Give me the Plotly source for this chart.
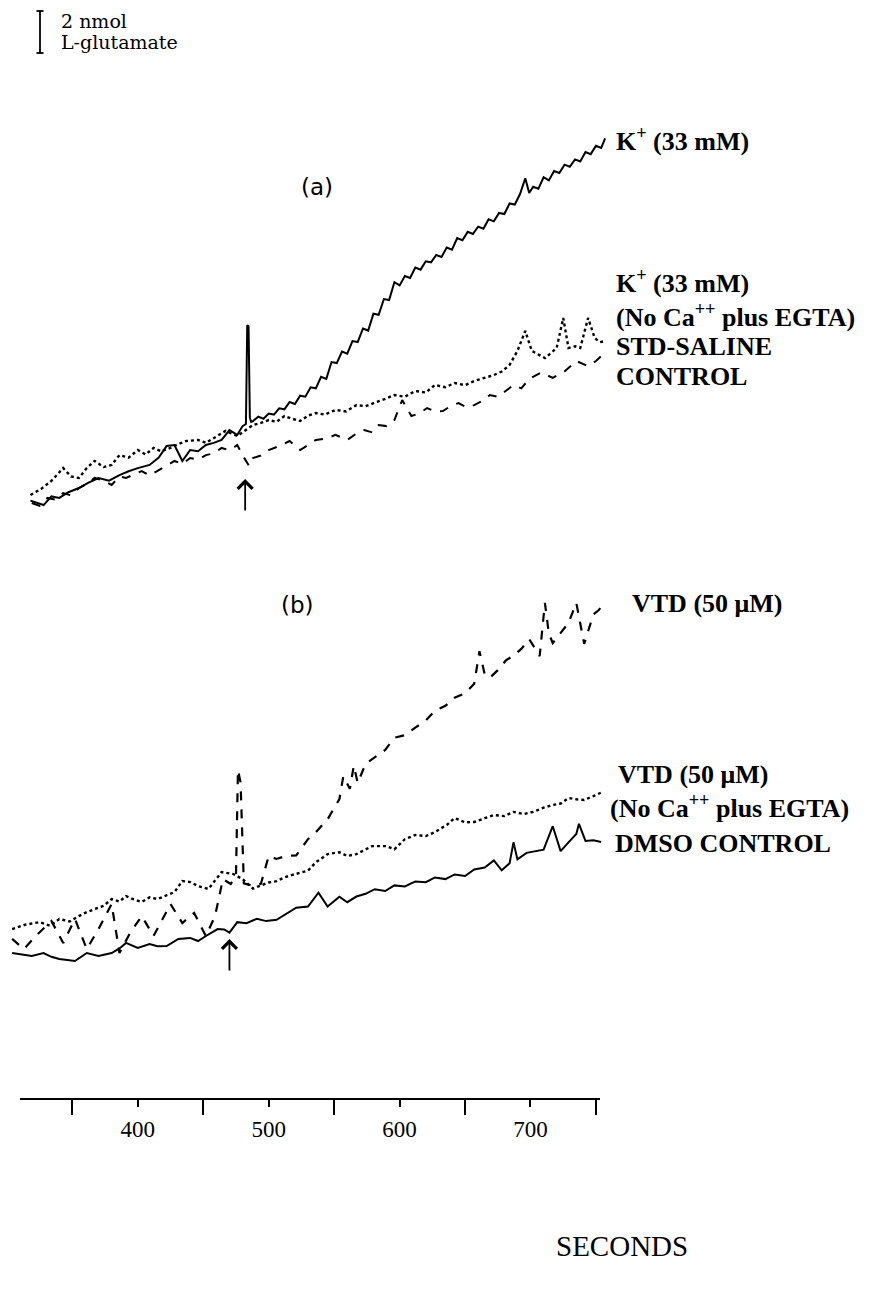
import plotly.graph_objects as go

# ---------------- data (time in s, glutamate in nmol relative to start of panel) ----------------
# Panel (a)
A_K_T = [318, 328, 334, 340, 347, 355, 362, 370, 378, 386, 393, 400, 409, 416, 422, 428, 434, 440, 446, 452,
         458, 464, 470, 476, 480, 482.6, 483.6, 484.6, 485.6, 486.6,
         488, 492, 496, 500, 504, 508, 512, 516, 520, 524, 528, 532, 536, 540, 544, 548, 552, 556, 560, 564,
         568, 572, 576, 580, 584, 588, 592, 596, 600, 604, 608, 612, 616, 620, 624, 628, 632, 636, 640, 644,
         648, 652, 656, 660, 664, 668, 672, 676, 680, 684, 688, 692, 696, 699, 702, 706, 710, 714, 718, 722,
         726, 730, 734, 738, 742, 746, 750, 754, 757]
A_K_V = [0.35, 0.14, 0.55, 0.48, 0.75, 0.95, 1.2, 1.43, 1.3, 1.57, 1.75, 1.9, 2.05, 2.4, 2.95, 3.0, 2.24, 2.76, 2.7, 3.0,
         3.1, 3.24, 3.71, 3.48, 3.9, 4.0, 8.7, 8.65, 4.3, 4.1,
         4.14, 4.35, 4.25, 4.5, 4.45, 4.75, 4.7, 5.05, 4.95, 5.35, 5.3, 5.75, 5.7, 6.25, 6.15, 6.95, 6.9, 7.45, 7.35, 7.95,
         7.9, 8.55, 8.45, 9.25, 9.2, 9.95, 9.9, 10.75, 10.6, 11.05, 10.95, 11.45, 11.35, 11.75, 11.7, 12.05, 11.95, 12.4, 12.3, 12.85,
         12.75, 13.15, 13.05, 13.4, 13.3, 13.75, 13.65, 14.05, 14.0, 14.5, 14.45, 14.95, 15.7, 15.0, 15.3, 15.2, 15.75, 15.6, 16.05, 15.95,
         16.35, 16.25, 16.6, 16.5, 16.95, 16.85, 17.25, 17.15, 17.6]

A_NOCA_T = [318, 326, 334, 343, 349, 355, 361, 367, 374, 380, 386, 393, 400, 406, 412, 418, 425, 431, 437, 446,
            452, 458, 467, 476, 482, 488, 494, 500, 506, 512, 518, 524, 530, 536, 543, 551, 559, 567, 574, 581,
            589, 596, 604, 612, 620, 627, 635, 642, 650, 657, 665, 672, 678, 684, 690, 696, 701, 706, 711, 716,
            720, 725, 729, 734, 738, 744, 749, 753, 757]
A_NOCA_V = [0.62, 0.9, 1.29, 1.9, 1.5, 1.43, 1.9, 2.24, 1.95, 2.05, 2.52, 2.4, 2.76, 2.55, 2.86, 2.7, 2.86, 3.05, 3.19, 3.24,
            3.1, 3.33, 3.67, 3.43, 3.7, 3.95, 4.05, 4.19, 4.1, 4.38, 4.25, 4.14, 4.4, 4.52, 4.45, 4.67, 4.6, 4.9, 4.85, 5.0,
            5.2, 5.38, 5.3, 5.57, 5.5, 5.86, 5.75, 5.95, 5.85, 6.05, 6.2, 6.33, 6.5, 6.81, 7.48, 8.43, 7.48, 7.3, 7.14, 7.4,
            7.62, 9.05, 7.62, 7.7, 7.62, 9.05, 8.1, 7.9, 7.95]

A_STD_T = [319, 325, 331, 337, 343, 349, 355, 361, 367, 374, 380, 386, 391, 397, 403, 409, 415, 422, 428, 434,
           440, 446, 452, 458, 464, 470, 476, 480, 482, 485, 488, 494, 500, 508, 516, 524, 530, 536, 544, 551,
           560, 567, 573, 579, 584, 590, 596, 602, 609, 615, 621, 627, 633, 639, 645, 651, 657, 663, 669, 675,
           681, 687, 693, 699, 708, 717, 726, 735, 744, 750, 757]
A_STD_V = [0.24, 0.1, 0.48, 0.4, 0.71, 0.6, 0.95, 1.15, 1.43, 1.3, 1.1, 1.5, 1.43, 1.6, 1.76, 1.55, 1.76, 2.0, 2.24, 2.1,
           2.38, 2.3, 2.52, 2.6, 2.86, 2.75, 3.0, 2.52, 2.29, 2.0, 2.38, 2.5, 2.76, 2.95, 3.19, 2.76, 3.0, 3.24, 3.3, 3.48,
           3.24, 3.55, 3.71, 3.6, 3.95, 3.9, 4.19, 5.14, 4.38, 4.5, 4.76, 4.6, 4.62, 4.85, 5.0, 4.8, 4.9, 5.1, 5.38, 5.3,
           5.57, 5.86, 5.7, 6.15, 6.45, 6.2, 6.5, 7.0, 6.75, 7.0, 7.4]

# Panel (b)
B_VTD_T = [304, 313, 322, 334, 343, 352, 361, 370, 380, 386, 394, 403, 412, 425, 434, 443, 452, 459, 465, 471,
           475, 476.5, 478.5, 481, 488, 494, 500, 506, 513, 521, 530, 536, 545, 554, 557, 562, 565, 568, 574, 581,
           589, 596, 604, 612, 620, 627, 635, 642, 650, 657, 661, 665, 669, 675, 681, 687, 693, 699, 703, 707,
           711, 714, 717, 723, 729, 735, 741, 748, 752, 757]
B_VTD_V = [1.05, 0.57, 1.19, 1.9, 0.86, 2.0, 0.57, 1.52, 2.71, 0.38, 1.33, 2.14, 1.19, 2.71, 1.81, 2.29, 1.19, 2.14, 3.9, 3.67,
           4.05, 9.1, 8.5, 3.7, 3.57, 3.67, 5.0, 4.86, 5.0, 5.03, 5.8, 6.13, 6.75, 7.71, 8.8, 8.2, 9.3, 8.48, 9.39, 9.68,
           10.05, 10.63, 10.75, 11.11, 11.45, 11.92, 12.15, 12.54, 12.75, 13.2, 14.75, 13.65, 13.49, 13.85, 14.3, 14.55, 14.86, 15.33, 14.9, 14.52,
           17.05, 15.6, 15.14, 15.6, 16.1, 17.05, 15.1, 16.5, 16.7, 17.1]

B_NOCA_T = [304, 314, 325, 333, 340, 348, 355, 361, 367, 374, 380, 386, 391, 397, 403, 409, 415, 422, 428, 434,
            440, 446, 454, 459, 464, 473, 480, 488, 494, 500, 506, 512, 518, 524, 530, 536, 545, 554, 560, 567,
            573, 579, 590, 596, 604, 612, 620, 627, 636, 642, 650, 657, 665, 672, 680, 687, 695, 702, 710, 717,
            723, 729, 735, 741, 748, 755]
B_NOCA_V = [1.52, 1.73, 1.85, 1.68, 2.0, 1.88, 2.14, 2.33, 2.47, 2.63, 2.95, 2.83, 3.09, 2.93, 2.81, 3.03, 2.95, 3.13, 3.28, 3.81,
            3.76, 3.57, 3.43, 3.83, 4.23, 4.14, 3.9, 3.45, 3.6, 3.74, 3.8, 3.98, 4.1, 4.21, 4.3, 4.7, 5.09, 5.18, 5.0, 5.09,
            5.3, 5.47, 5.47, 5.32, 5.8, 6.0, 5.95, 6.14, 6.48, 6.81, 6.6, 6.62, 6.8, 6.95, 6.9, 7.1, 7.0, 7.1, 7.3, 7.43,
            7.5, 7.76, 7.7, 7.67, 7.85, 8.05]

B_DMSO_T = [304, 312, 319, 328, 334, 340, 346, 352, 361, 370, 380, 386, 391, 400, 409, 415, 422, 431, 440, 446,
            452, 461, 466, 470, 476, 483, 491, 498, 506, 512, 521, 530, 538, 545, 554, 560, 567, 574, 581, 589,
            596, 604, 612, 620, 627, 635, 642, 650, 657, 665, 672, 678, 684, 687, 690, 697, 703, 710, 717, 723,
            729, 735, 737, 742, 748, 754]
B_DMSO_V = [0.38, 0.3, 0.24, 0.38, 0.2, 0.1, 0.05, 0.0, 0.38, 0.24, 0.38, 0.6, 0.86, 0.62, 0.81, 0.7, 0.71, 1.05, 1.1, 0.95,
            1.19, 1.52, 1.5, 1.35, 1.85, 1.8, 2.01, 1.9, 1.96, 2.2, 2.54, 2.59, 3.25, 2.59, 3.06, 2.8, 3.07, 3.2, 3.42, 3.33,
            3.6, 3.55, 3.79, 3.75, 3.98, 3.9, 4.12, 4.05, 4.36, 4.45, 4.79, 4.32, 4.65, 5.65, 4.84, 5.15, 5.23, 5.3, 6.42, 5.23,
            5.65, 6.05, 6.53, 5.72, 5.75, 5.67]

# Axis ticks
TICK_LABELED = [400, 500, 600, 700]
TICK_UNLABELED = [350, 450, 550, 650, 750]
AXIS_RANGE = [310, 753.1]

SCALE_NMOL = 2              # scale bar size
STIM_A, STIM_B = 482, 470   # stimulus times (arrows)

# ---------------- layout constants ----------------
W, H = 896, 1298
PX_PER_NMOL = 21.0
PX_PER_S = 1.309
X0_PX = 12  # pixel of t=310
OFFSET_A = (H - 500) / PX_PER_NMOL
OFFSET_B = (H - 953) / PX_PER_NMOL
XR = [AXIS_RANGE[0] - X0_PX / PX_PER_S, AXIS_RANGE[0] + (W - X0_PX) / PX_PER_S]
YR = [0, H / PX_PER_NMOL]


def py2paper(py):
    return 1 - py / H


def px2t(px):
    return AXIS_RANGE[0] + (px - X0_PX) / PX_PER_S


fig = go.Figure()
blk = "black"


def add(t, v, off, dash, width=2.0):
    fig.add_trace(go.Scatter(x=t, y=[off + x for x in v], mode="lines",
                             line=dict(color=blk, width=width, dash=dash),
                             hoverinfo="skip", showlegend=False))


add(A_STD_T, A_STD_V, OFFSET_A, "dash", 2.0)
add(A_NOCA_T, A_NOCA_V, OFFSET_A, "dot", 2.4)
add(A_K_T, A_K_V, OFFSET_A, "solid", 2.0)
add(B_NOCA_T, B_NOCA_V, OFFSET_B, "dot", 2.4)
add(B_DMSO_T, B_DMSO_V, OFFSET_B, "solid", 2.0)
add(B_VTD_T, B_VTD_V, OFFSET_B, "dash", 2.2)

# scale bar (2 nmol)
sb_t = px2t(32)
sb_w = 3.5 / PX_PER_S
sb_top = (H - 3) / PX_PER_NMOL
sb_bot = sb_top - SCALE_NMOL
fig.add_trace(go.Scatter(
    x=[sb_t, sb_t, None, sb_t - sb_w, sb_t + sb_w, None, sb_t - sb_w, sb_t + sb_w],
    y=[sb_top, sb_bot, None, sb_top, sb_top, None, sb_bot, sb_bot],
    mode="lines", line=dict(color=blk, width=1.8), hoverinfo="skip", showlegend=False))

# invisible trace to create the ruler subplot
fig.add_trace(go.Scatter(x=AXIS_RANGE, y=[0, 0], xaxis="x2", yaxis="y2", mode="markers",
                         marker=dict(opacity=0), hoverinfo="skip", showlegend=False))

serif = "Liberation Serif"
ann = []


def label(text, px, py, size=26, family=serif, anchor="left", yanchor="middle"):
    ann.append(dict(text=text, x=px / W, y=py2paper(py), xref="paper", yref="paper",
                    xanchor=anchor, yanchor=yanchor, showarrow=False, borderpad=0,
                    font=dict(family=family, size=size, color=blk)))


label("2 nmol", 52, 1, size=19, family="DejaVu Serif", yanchor="top")
label("L-glutamate", 52, 34, size=19, family="DejaVu Serif")
label("(a)", 309, 179, size=23, family="DejaVu Sans", anchor="center")
label("(b)", 289, 597, size=23, family="DejaVu Sans", anchor="center")

label("<b>K<sup>+</sup> (33 mM)</b>", 607, 131)
label("<b>K<sup>+</sup> (33 mM)</b>", 607, 274)
label("<b>(No Ca<sup>++</sup> plus EGTA)</b>", 607, 307)
label("<b>STD-SALINE</b>", 607, 338)
label("<b>CONTROL</b>", 607, 368)

label("<b>VTD (50 μM)</b>", 623, 595)
label("<b>VTD (50 μM)</b>", 609, 766)
label("<b>(No Ca<sup>++</sup> plus EGTA)</b>", 601, 798)
label("<b>DMSO CONTROL</b>", 606, 836)

label("SECONDS", 614, 1238, size=29, anchor="center")

# stimulus arrows
for t_st, head_py in [(STIM_A, 471), (STIM_B, 931)]:
    ann.append(dict(text="", x=t_st, y=py2paper(head_py), xref="x", yref="paper",
                    showarrow=True, ax=0, ay=33, axref="pixel", ayref="pixel",
                    arrowhead=4, arrowsize=1.6, arrowwidth=1.8, arrowcolor=blk))

fig.update_layout(
    width=W, height=H, margin=dict(l=0, r=0, t=0, b=0),
    paper_bgcolor="white", plot_bgcolor="rgba(0,0,0,0)", showlegend=False,
    xaxis=dict(domain=[0, 1], range=XR, visible=False),
    yaxis=dict(domain=[0, 1], range=YR, visible=False),
    xaxis2=dict(domain=[X0_PX / W, 592 / W], range=AXIS_RANGE, anchor="free",
                position=py2paper(1091), showline=True, linecolor=blk, linewidth=2,
                showgrid=False, zeroline=False, ticks="outside", tickvals=TICK_LABELED,
                ticktext=[str(v) for v in TICK_LABELED], ticklen=7, tickwidth=1.5, tickcolor=blk,
                tickfont=dict(family=serif, size=23, color=blk), ticklabelstandoff=2,
                minor=dict(tickvals=TICK_UNLABELED, ticklen=15, tickwidth=2, tickcolor=blk, ticks="outside")),
    yaxis2=dict(domain=[0, 1], range=[0, 1], visible=False, anchor="x2"),
    annotations=ann,
)

fig.write_html("out.html")
